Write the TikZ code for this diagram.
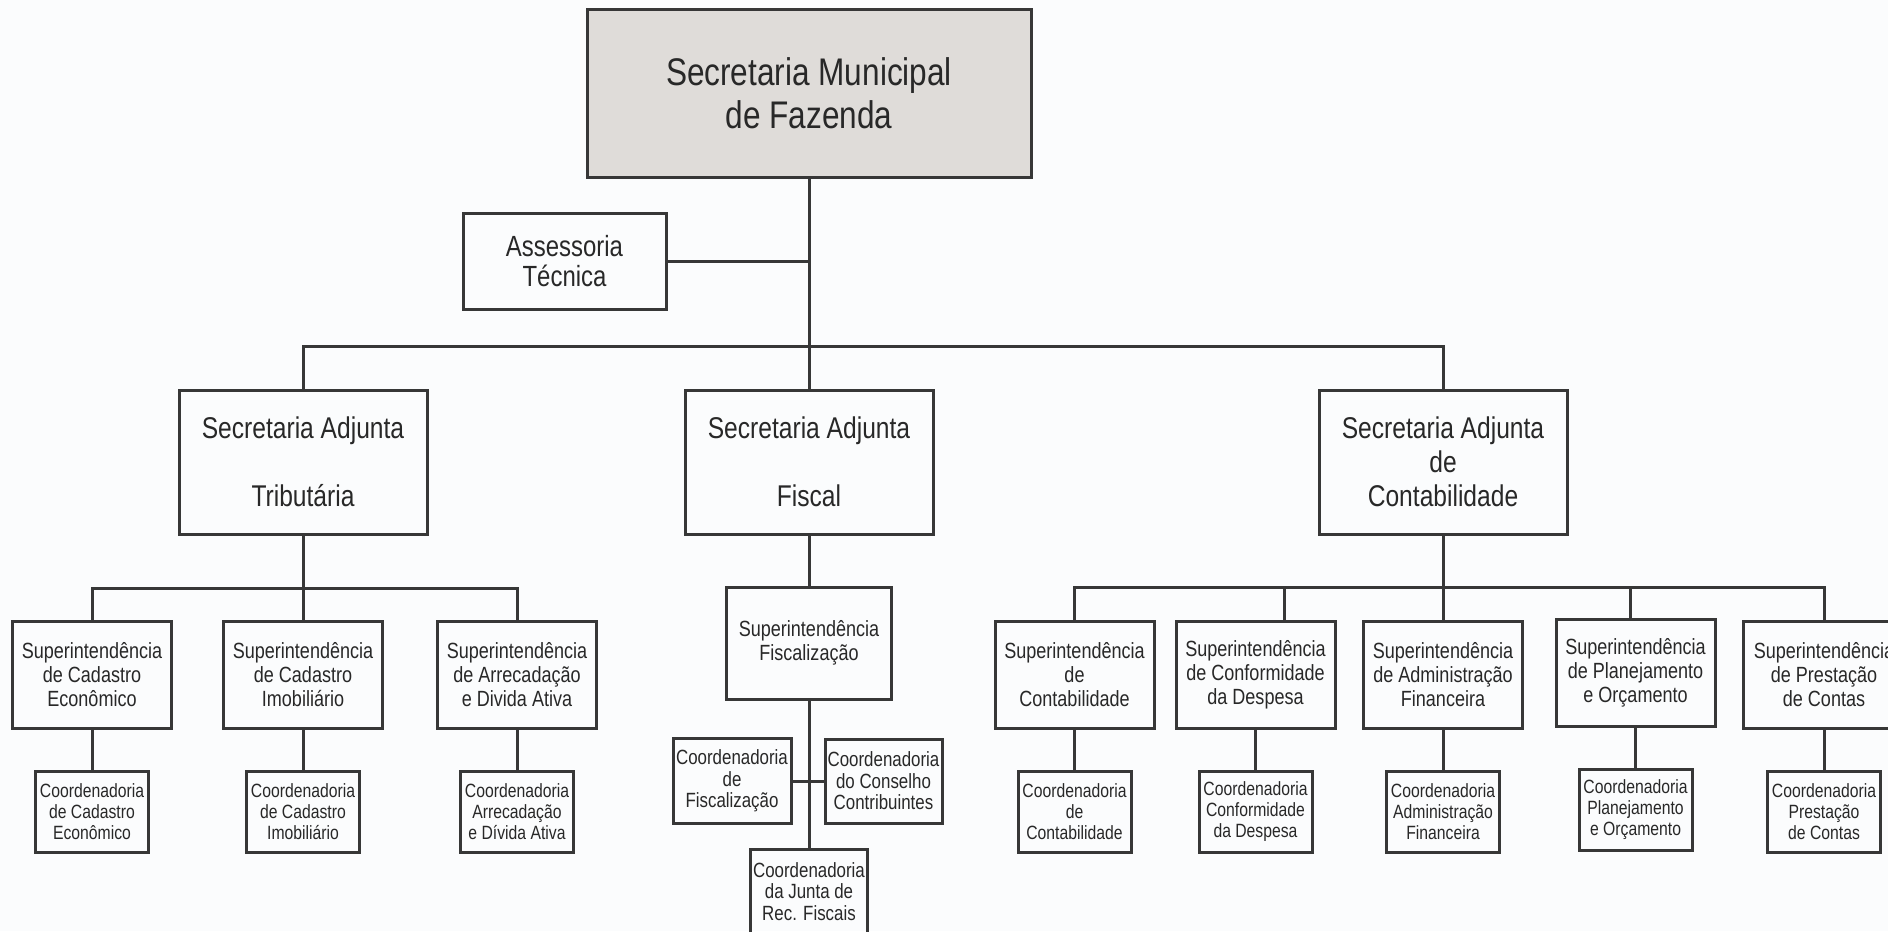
\documentclass[tikz,border=0pt]{standalone}
\usepackage{fontspec}
\setmainfont{Liberation Sans}[FakeStretch=0.82]
\usetikzlibrary{positioning}
\definecolor{linegray}{RGB}{55,55,55}
\definecolor{textgray}{RGB}{40,40,40}
\definecolor{headfill}{RGB}{223,220,217}
\definecolor{paper}{RGB}{251,252,253}
\tikzset{
    unit/.style = {
        draw = linegray,
        line width = 1.5pt,
        inner sep = 0pt,
        align = center,
        text = textgray,
        },
    head unit/.style = {
        unit,
        fill = headfill,
        minimum width = 222pt,
        minimum height = 83.5pt,
        font = \fontsize{19.25}{21.5}\selectfont,
        },
    advisory/.style = {
        unit,
        minimum width = 101.5pt,
        minimum height = 48pt,
        font = \fontsize{14.6}{15.4}\selectfont,
        },
    adjunta/.style = {
        unit,
        minimum width = 124pt,
        minimum height = 72pt,
        font = \fontsize{15}{17}\selectfont,
        },
    superint/.style = {
        unit,
        minimum width = 79.5pt,
        minimum height = 53.5pt,
        font = \fontsize{11}{12}\selectfont,
        },
    coord/.style = {
        unit,
        minimum width = 56.5pt,
        minimum height = 40.5pt,
        font = \fontsize{9.6}{10.5}\selectfont,
        },
    coord big/.style = {
        coord,
        font = \fontsize{10.3}{10.7}\selectfont,
        },
    link/.style = {
        draw = linegray,
        line width = 1.5pt,
        },
}
\begin{document}
\begin{tikzpicture}[x=0.5pt,y=-0.5pt]
    \useasboundingbox (0,0) rectangle (1888,931);
    \fill[paper] (0,0) rectangle (1888,931);
    \clip (0,0) rectangle (1888,931);

    % top level
    \node[head unit] (smf) at (809,93.5) {Secretaria Municipal\\de Fazenda};
    \node[advisory] (asst) at (564.5,261) {Assessoria\\Técnica};
    \node[adjunta] (trib) at (303,462) {Secretaria Adjunta\\[17pt]Tributária};
    \node[adjunta] (fisc) at (809,462) {Secretaria Adjunta\\[17pt]Fiscal};
    \node[adjunta] (cont) at (1443,462) {Secretaria Adjunta\\de\\Contabilidade};

    % tributaria
    \node[superint] (sCadEco) at (92,674.5) {Superintendência\\de Cadastro\\Econômico};
    \node[superint] (sCadImo) at (303,674.5) {Superintendência\\de Cadastro\\Imobiliário};
    \node[superint] (sArrec) at (517,674.5) {Superintendência\\de Arrecadação\\e Divida Ativa};
    \node[coord, below=20pt of sCadEco] (cCadEco) {Coordenadoria\\de Cadastro\\Econômico};
    \node[coord, below=20pt of sCadImo] (cCadImo) {Coordenadoria\\de Cadastro\\Imobiliário};
    \node[coord, below=20pt of sArrec] (cArrec) {Coordenadoria\\Arrecadação\\e Dívida Ativa};

    % fiscal
    \node[superint, minimum width=82.5pt, minimum height=56pt] (sFisc) at (809,643) {Superintendência\\Fiscalização};
    \node[coord big, minimum width=59pt, minimum height=42.5pt] (cFisc) at (732,781) {Coordenadoria\\de\\Fiscalização};
    \node[coord big, minimum width=58.5pt, minimum height=42pt] (cConselho) at (883.5,781) {Coordenadoria\\do Conselho\\Contribuintes};
    \node[coord big, minimum width=58.5pt, minimum height=42.5pt] (cJunta) at (809,891.5) {Coordenadoria\\da Junta de\\Rec. Fiscais};

    % contabilidade
    \node[superint] (sCont) at (1074.5,674.5) {Superintendência\\de\\Contabilidade};
    \node[superint] (sConf) at (1255.5,674.5) {Superintendência\\de Conformidade\\da Despesa};
    \node[superint] (sAdmFin) at (1443,674.5) {Superintendência\\de Administração\\Financeira};
    \node[superint] (sPlan) at (1635.5,672.5) {Superintendência\\de Planejamento\\e Orçamento};
    \node[superint, minimum width=81pt] (sPrest) at (1824,675) {Superintendência\\de Prestação\\de Contas};
    \node[coord, below=20pt of sCont] (cCont) {Coordenadoria\\de\\Contabilidade};
    \node[coord, below=20pt of sConf] (cConf) {Coordenadoria\\Conformidade\\da Despesa};
    \node[coord, below=20pt of sAdmFin] (cAdmFin) {Coordenadoria\\Administração\\Financeira};
    \node[coord, below=20pt of sPlan] (cPlan) {Coordenadoria\\Planejamento\\e Orçamento};
    \node[coord, below=20pt of sPrest] (cPrest) {Coordenadoria\\Prestação\\de Contas};

    \coordinate (bus0) at (809,346);
    \coordinate (bus1) at (303,588);
    \coordinate (bus2) at (1443,587);

    \draw[link] (smf) -- (fisc);
    \draw[link] (asst) -- (asst -| smf);
    \draw[link] (trib) |- (bus0) -| (cont);

    \draw[link] (trib) -- (bus1);
    \draw[link] (sCadEco) |- (bus1) -| (sArrec);
    \draw[link] (bus1) -- (sCadImo);
    \draw[link] (sCadEco) -- (cCadEco);
    \draw[link] (sCadImo) -- (cCadImo);
    \draw[link] (sArrec) -- (cArrec);

    \draw[link] (fisc) -- (sFisc);
    \draw[link] (sFisc) -- (cJunta);
    \draw[link] (cFisc) -- (cConselho);

    \draw[link] (cont) -- (bus2);
    \draw[link] (sCont) |- (bus2) -| (sPrest);
    \draw[link] (bus2) -- (sAdmFin);
    \draw[link] (sConf.north) ++(29,0) |- (bus2);
    \draw[link] (sPlan.north) ++(-5,0) |- (bus2);
    \draw[link] (sCont) -- (cCont);
    \draw[link] (sConf) -- (cConf);
    \draw[link] (sAdmFin) -- (cAdmFin);
    \draw[link] (sPlan) -- (cPlan);
    \draw[link] (sPrest) -- (cPrest);
\end{tikzpicture}
\end{document}
